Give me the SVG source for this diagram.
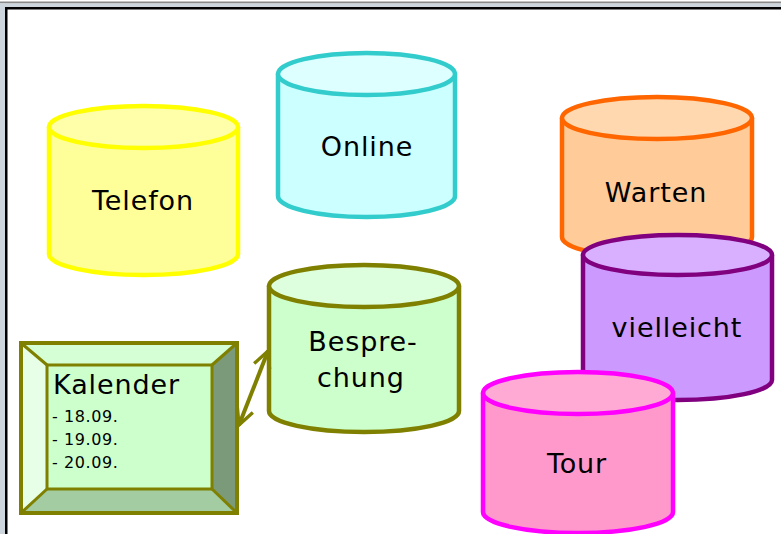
<svg xmlns="http://www.w3.org/2000/svg" width="781" height="534" viewBox="0 0 781 534">
<defs>
<style>
.lbl{font-family:"DejaVu Sans","Liberation Sans",sans-serif;font-size:27px;letter-spacing:0.9px;fill:#000;text-anchor:middle}
.sm{font-family:"DejaVu Sans","Liberation Sans",sans-serif;font-size:16px;letter-spacing:0.6px;fill:#000}
.cyl{stroke-width:4.5;stroke-linejoin:round}
</style>
<marker id="ah" viewBox="0 0 12 12" refX="11" refY="6" markerWidth="5" markerHeight="5" orient="auto-start-reverse" markerUnits="strokeWidth">
<path d="M1,1 L11,6 L1,11" fill="none" stroke="#808000" stroke-width="2"/>
</marker>
</defs>
<rect x="0" y="0" width="781" height="534" fill="#fff"/>
<g id="frame">
<rect x="0" y="1.5" width="781" height="2" fill="#8a8a8a"/>
<rect x="0" y="3.5" width="781" height="4" fill="#cdd6dc"/>
<rect x="0" y="3.5" width="5" height="531" fill="#cdd6dc"/>
<rect x="5" y="7" width="776" height="2.5" fill="#000"/>
<rect x="5" y="7" width="2.5" height="527" fill="#000"/>
</g>
<g id="telefon" class="cyl" stroke="#ffff00">
<path d="M49,127 L49,254 A94.5,21 0 0 0 238,254 L238,127 Z" fill="#ffff99"/>
<ellipse cx="143.5" cy="127" rx="94.5" ry="21" fill="#ffffaa"/>
<text class="lbl" x="143" y="210" stroke="none">Telefon</text>
</g>
<g id="online" class="cyl" stroke="#33cccc">
<path d="M278,74 L278,196 A88.5,21 0 0 0 455,196 L455,74 Z" fill="#ccffff"/>
<ellipse cx="366.5" cy="74" rx="88.5" ry="21" fill="#ddffff"/>
<text class="lbl" x="367" y="156" stroke="none">Online</text>
</g>
<g id="besprechung" class="cyl" stroke="#808000">
<path d="M269,286 L269,411 A95,21 0 0 0 459,411 L459,286 Z" fill="#ccffcc"/>
<ellipse cx="364" cy="286" rx="95" ry="21" fill="#ddffdd"/>
<text class="lbl" x="363" y="351" stroke="none">Bespre-</text>
<text class="lbl" x="361" y="387" stroke="none">chung</text>
</g>
<g id="warten" class="cyl" stroke="#ff6600">
<path d="M562,118 L562,237 A95,21 0 0 0 752,237 L752,118 Z" fill="#ffcc99"/>
<ellipse cx="657" cy="118" rx="95" ry="21" fill="#ffd8b0"/>
<text class="lbl" x="656" y="202" stroke="none">Warten</text>
</g>
<g id="vielleicht" class="cyl" stroke="#800080">
<path d="M583,255 L583,380 A94.5,20 0 0 0 772,380 L772,255 Z" fill="#cc99ff"/>
<ellipse cx="677.5" cy="255" rx="94.5" ry="20" fill="#d8b0ff"/>
<text class="lbl" x="677" y="337" stroke="none">vielleicht</text>
</g>
<g id="tour" class="cyl" stroke="#ff00ff">
<path d="M483,393 L483,512 A95,21 0 0 0 673,512 L673,393 Z" fill="#ff99cc"/>
<ellipse cx="578" cy="393" rx="95" ry="21" fill="#ffaad5"/>
<text class="lbl" x="577" y="473" stroke="none">Tour</text>
</g>
<g id="kalender">
<polygon points="21,343 237,343 212,365 47,365" fill="#d5ffd5"/>
<polygon points="21,343 47,365 47,489 21,513" fill="#e6ffe6"/>
<polygon points="237,343 237,513 212,489 212,365" fill="#7a9a7a"/>
<polygon points="21,513 47,489 212,489 237,513" fill="#a3cca3"/>
<rect x="47" y="365" width="165" height="124" fill="#ccffcc"/>
<g fill="none" stroke="#808000" stroke-width="4" stroke-linejoin="miter">
<rect x="21" y="343" width="216" height="170"/>
<rect x="47" y="365" width="165" height="124" stroke-width="3"/>
<path d="M21,343 L47,365 M237,343 L212,365 M21,513 L47,489 M237,513 L212,489" stroke-width="3"/>
</g>
<text class="lbl" x="53" y="394" style="text-anchor:start">Kalender</text>
<text class="sm" x="52" y="422">- 18.09.</text>
<text class="sm" x="52" y="445">- 19.09.</text>
<text class="sm" x="52" y="468">- 20.09.</text>
</g>
<g id="connectors">
<line x1="239" y1="425" x2="268" y2="351" stroke="#808000" stroke-width="4" marker-start="url(#ah)" marker-end="url(#ah)"/>
</g>
</svg>
